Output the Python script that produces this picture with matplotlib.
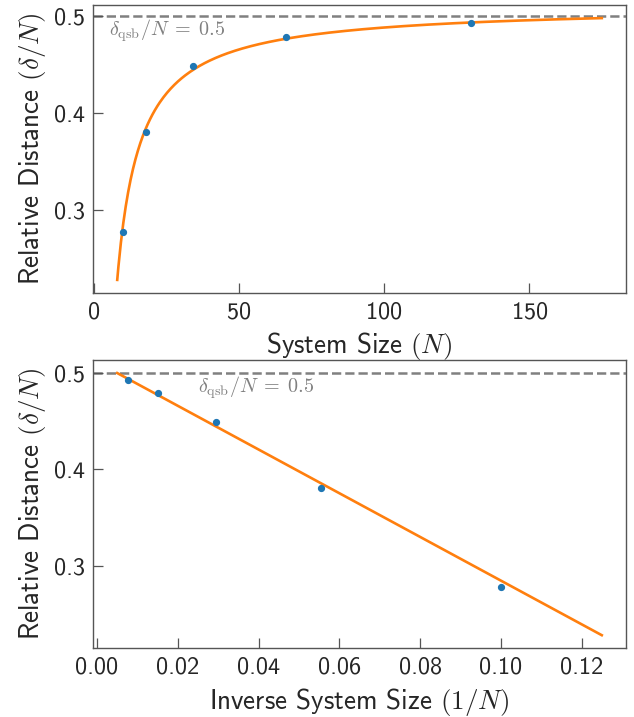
import numpy as np
import matplotlib
matplotlib.use("Agg")
import matplotlib.pyplot as plt

# ── 1. DATA ──────────────────────────────────────────────────────────────────
system_size = np.array([10, 18, 34, 66, 130])
rel_distance = np.array([0.278, 0.381, 0.449, 0.479, 0.493])

# linear fit delta/N = a + b * (1/N), as it appears in the picture
FIT_A = 0.511
FIT_B = -2.26
N_FIT_RANGE = (8, 175)
INV_FIT_RANGE = (0.005, 0.125)
QSB_LEVEL = 0.5

# ── 2. STYLE ─────────────────────────────────────────────────────────────────
plt.rcParams["font.family"] = ["cmss10", "DejaVu Sans"]
plt.rcParams["mathtext.fontset"] = "cm"
plt.rcParams["axes.formatter.use_mathtext"] = True
plt.rcParams["axes.unicode_minus"] = False

BLUE = "#1f77b4"
ORANGE = "#ff7f0e"
SPINE = "#555555"
TEXT = "#262626"

fig = plt.figure(figsize=(6.34, 7.17), dpi=100)
ax_top = fig.add_axes([0.1467, 0.5914, 0.8407, 0.4016])
ax_bot = fig.add_axes([0.1467, 0.0958, 0.8407, 0.4022])

n_fine = np.linspace(*N_FIT_RANGE, 400)
inv_fine = np.linspace(*INV_FIT_RANGE, 400)

# ── 3. TOP: against N ────────────────────────────────────────────────────────
ax_top.plot(n_fine, FIT_A + FIT_B / n_fine, color=ORANGE, lw=1.9, zorder=2)
ax_top.plot(system_size, rel_distance, "o", color=BLUE, ms=4.2, zorder=3)
ax_top.set_xlabel(r"System Size $(N)$", fontsize=19.5, color=TEXT, labelpad=5)

# ── 4. BOTTOM: against 1/N ───────────────────────────────────────────────────
ax_bot.plot(inv_fine, FIT_A + FIT_B * inv_fine, color=ORANGE, lw=1.9, zorder=2)
ax_bot.plot(1 / system_size, rel_distance, "o", color=BLUE, ms=4.2, zorder=3)
ax_bot.set_xlabel(r"Inverse System Size $(1/N)$", fontsize=19.5, color=TEXT,
                  labelpad=5)
ax_bot.xaxis.set_major_formatter(plt.FormatStrFormatter("%.2f"))

label_pos = [(ax_top, 5, 0.485), (ax_bot, 0.025, 0.485)]
for ax, tx, ty in label_pos:
    ax.axhline(QSB_LEVEL, color="#808080", ls="--", lw=1.8, zorder=1)
    ax.text(tx, ty, r"$\delta_{\mathrm{qsb}}/N\;=\;0.5$", color="gray",
            fontsize=14.5, va="center", ha="left")
    ax.set_ylabel(r"Relative Distance $(\delta/N)$", fontsize=19.5, color=TEXT)
    ax.set_yticks([0.3, 0.4, 0.5])
    ax.yaxis.set_major_formatter(plt.FormatStrFormatter("%.1f"))
    ax.tick_params(direction="in", length=7.5, width=0.9, color=SPINE,
                   labelsize=17.5, labelcolor=TEXT, pad=6)
    for sp in ax.spines.values():
        sp.set_color(SPINE)
        sp.set_linewidth(1.0)

ax_top.set_xticks([0, 50, 100, 150])

fig.savefig("out.png", dpi=100)
